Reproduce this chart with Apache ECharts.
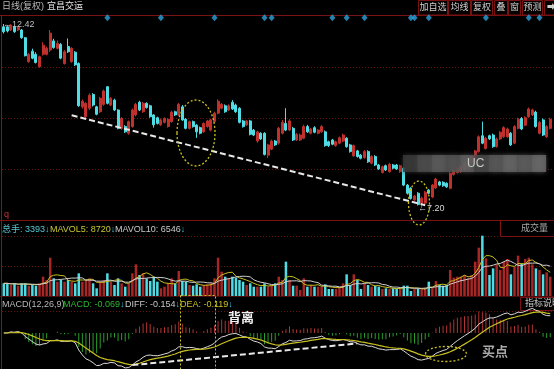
<!DOCTYPE html>
<html><head><meta charset="utf-8">
<script src="https://cdn.jsdelivr.net/npm/echarts@6/dist/echarts.min.js"></script>
<style>html,body{margin:0;padding:0;background:#000;}#c{width:554px;height:369px;}</style>
</head><body><div id="c"></div>
<script>
// ---------- data ----------
const opens = [12.34,12.34,12.25,12.34,12.25,12.25,12.03,11.35,11.65,11.56,
11.21,11.56,11.56,11.68,11.94,11.73,11.84,11.30,11.78,11.35,
11.62,11.30,10.07,9.79,10.03,10.42,10.07,9.93,10.14,10.64,
10.12,10.26,9.98,9.46,9.51,9.32,9.51,9.84,10.20,9.93,
10.17,10.10,9.84,9.76,9.56,9.63,9.51,9.65,9.93,9.84,
10.07,9.72,9.46,9.65,9.55,9.48,9.36,9.51,9.41,9.65,
9.89,10.03,10.10,9.98,10.20,10.12,10.03,9.67,9.56,9.67,
9.41,9.10,9.32,9.32,8.70,8.87,9.10,9.04,9.32,9.60,
9.41,9.46,9.13,9.13,9.18,9.51,9.32,9.48,9.32,9.36,
9.36,9.08,9.13,8.97,9.04,9.10,9.18,8.99,8.68,8.82,
8.70,8.63,8.80,8.47,8.66,8.42,8.21,8.40,8.23,8.42,
8.42,8.23,8.33,7.85,7.76,7.43,7.62,7.34,7.34,7.71,
7.51,7.77,7.94,7.93,7.90,7.76,8.15,8.21,8.23,8.28,
8.33,8.48,8.51,8.80,9.25,8.89,9.25,9.27,8.94,9.16,
9.22,9.22,9.32,9.04,9.46,9.74,9.55,9.79,9.84,9.92,
9.32,9.70,9.22,9.46];
const closes = [12.20,12.22,12.39,12.20,12.34,12.03,11.52,11.56,11.45,11.33,
11.49,11.82,11.73,12.16,11.75,11.87,11.45,11.63,11.63,11.73,
11.26,10.10,10.23,10.17,10.40,10.12,9.86,10.31,10.52,10.17,
10.31,9.98,9.46,9.74,9.36,9.65,9.98,10.14,9.98,10.17,
10.05,9.79,9.56,9.60,9.70,9.74,9.72,9.92,9.84,10.14,
9.70,9.46,9.65,9.51,9.36,9.32,9.60,9.67,9.70,9.89,
10.23,10.14,9.93,10.10,10.01,9.93,9.63,9.51,9.67,9.29,
9.27,9.36,9.16,8.72,8.99,9.10,8.99,9.46,9.63,9.41,
9.67,9.13,9.29,9.27,9.51,9.36,9.44,9.35,9.41,9.51,
8.97,8.97,9.01,9.08,9.19,9.27,8.94,8.80,8.97,8.66,
8.61,8.80,8.51,8.66,8.42,8.31,8.37,8.28,8.44,8.33,
8.31,8.40,7.85,7.62,7.47,7.54,7.30,7.48,7.65,7.62,
7.85,8.02,7.85,7.83,7.80,8.18,8.28,8.33,8.37,8.47,
8.51,8.65,8.82,9.22,9.04,9.18,9.16,8.94,9.16,9.35,
9.48,9.44,8.99,9.51,9.72,9.44,9.76,10.01,9.98,9.51,
9.63,9.27,9.51,9.72];
const lows = [12.15,12.18,12.22,12.17,12.22,12.00,11.50,11.32,11.42,11.30,
11.18,11.52,11.53,11.63,11.72,11.70,11.42,11.27,11.60,11.32,
11.23,10.07,10.02,9.75,9.98,10.08,9.83,9.90,10.10,10.14,
10.09,9.95,9.43,9.42,9.33,9.28,9.48,9.80,9.95,9.90,
10.02,9.76,9.48,9.57,9.53,9.60,9.48,9.62,9.81,9.81,
9.67,9.43,9.43,9.48,9.19,9.29,9.33,9.48,9.38,9.62,
9.86,10.00,9.90,9.95,9.98,9.90,9.60,9.48,9.53,9.26,
9.24,9.05,9.13,8.69,8.62,8.84,8.96,9.00,9.29,9.38,
9.38,9.10,9.10,9.10,9.15,9.33,9.29,9.32,9.29,9.33,
8.94,8.93,8.98,8.94,9.01,9.07,8.91,8.77,8.65,8.63,
8.58,8.60,8.48,8.44,8.39,8.28,8.18,8.25,8.20,8.30,
8.28,8.20,7.82,7.58,7.44,7.40,7.27,7.20,7.30,7.59,
7.48,7.74,7.82,7.80,7.77,7.73,8.12,8.18,8.20,8.25,
8.30,8.45,8.48,8.77,9.01,8.86,9.13,8.91,8.91,9.13,
9.19,9.19,8.96,9.01,9.43,9.41,9.52,9.76,9.81,9.48,
9.29,9.24,9.19,9.43];
const highs = [12.42,12.38,12.41,12.37,12.36,12.28,12.05,11.60,11.72,11.62,
11.52,11.90,11.78,12.25,12.00,11.95,11.88,11.68,12.01,11.76,
11.65,11.33,10.28,10.20,10.45,10.46,10.10,10.35,10.56,10.66,
10.35,10.30,10.00,9.78,9.55,9.68,10.02,10.18,10.24,10.21,
10.20,10.13,9.86,9.79,9.74,9.77,9.75,9.96,9.96,10.18,
10.12,9.75,9.68,9.68,9.58,9.51,9.63,9.70,9.73,9.93,
10.28,10.18,10.14,10.14,10.26,10.16,10.06,9.70,9.70,9.70,
9.44,9.39,9.35,9.35,9.02,9.14,9.13,9.50,9.70,10.03,
9.72,9.50,9.33,9.31,9.56,9.56,9.47,9.52,9.44,9.55,
9.40,9.11,9.16,9.11,9.23,9.31,9.21,9.02,9.00,8.85,
8.73,8.84,8.84,8.70,8.70,8.45,8.40,8.43,8.48,8.45,
8.45,8.43,8.36,7.88,7.79,7.57,7.65,7.52,7.68,7.74,
7.88,8.06,7.97,7.96,7.93,8.22,8.31,8.36,8.40,8.50,
8.55,8.68,8.85,9.26,9.65,9.22,9.28,9.31,9.20,9.38,
9.52,9.48,9.36,9.55,9.76,9.78,9.80,10.05,10.02,9.96,
9.67,9.74,9.55,9.76];
const volumes = [3550,3550,3080,3550,2890,3550,3550,2890,3080,2890,
3550,5410,4480,10730,4950,4010,4480,4010,4480,4010,
3550,6350,4010,4480,4950,3550,2150,4010,4480,6350,
4010,3080,4950,3550,2610,3550,6350,8870,5880,6350,
4950,4200,5410,4010,2150,2610,3550,4950,3550,7000,
4200,4010,3080,2890,3270,2610,3080,3270,3550,4950,
10730,6810,5410,4950,5410,5130,4480,4010,3080,3550,
2610,2610,2610,3550,2610,3080,3550,5410,4480,9610,
4480,2890,2890,1680,4950,2610,3080,2610,2610,2610,
3270,1960,1960,1960,2610,3550,6070,3080,6070,4480,
1960,3550,3080,2610,2890,2610,1960,2150,1960,2150,
2150,2150,2890,2890,1400,1960,1960,1960,2330,4010,
2330,4200,3080,2890,3080,7280,5130,5410,5410,5880,
4950,5880,9610,13530,16890,10540,5880,7740,8870,7280,
9610,10360,6070,8210,11290,9140,10360,10730,8870,7740,
7280,6070,6620,5410];
const eventDays = [29,44,59,73,75,92,96,101,114,115,119,135,147,150];
const categories = opens.map((_, i) => 'D' + (i + 1));
const highLabel = '12.42', lowLabel = '7.20';

// ---------- derived indicators (standard definitions) ----------
function ema(arr, n) { const k = 2 / (n + 1), out = []; arr.forEach((v, i) => out.push(i === 0 ? v : out[i - 1] + k * (v - out[i - 1]))); return out; }
function ma(arr, n) { return arr.map((_, i) => { const s = Math.max(0, i - n + 1); let t = 0; for (let j = s; j <= i; j++) t += arr[j]; return +(t / (i - s + 1)).toFixed(1); }); }
const e12 = ema(closes, 12), e26 = ema(closes, 26);
const dif = e12.map((v, i) => v - e26[i]);
const dea = []; dif.forEach((v, i) => dea.push(i === 0 ? v : dea[i - 1] + 0.2 * (v - dea[i - 1])));
const macd = dif.map((v, i) => 2 * (v - dea[i]));
const mavol5 = ma(volumes, 5), mavol10 = ma(volumes, 10);
let M = 0; dif.concat(dea, macd).forEach(v => M = Math.max(M, Math.abs(v))); M *= 1.03;

const FONT = "'Liberation Sans','Noto Sans CJK SC',sans-serif";
const UP = '#c0302c', DOWN = '#4fdce4';
const isUp = i => closes[i] >= opens[i];

// ---------- decoration ----------
const G = [];
const FR = '#7a1212', DOT = '#661212';
function hl(y, x1, x2, c, dash, z) { G.push({ type: 'line', silent: true, z: z || 0, shape: { x1, y1: y, x2, y2: y }, style: { stroke: c, lineWidth: 1, lineDash: dash || null } }); }
hl(15.5, 0, 554, FR); hl(220.5, 0, 554, FR); hl(296.5, 0, 554, '#4a0c0c');
[67.5, 118.5, 169.5, 266.5, 311.5].forEach(y => hl(y, 2, 554, DOT, [1, 2]));
hl(236.5, 2, 500, DOT, [1, 2]);
G.push({ type: 'line', silent: true, z: 0, shape: { x1: 1.5, y1: 15, x2: 1.5, y2: 369 }, style: { stroke: '#8a1414', lineWidth: 1 } });
G.push({ type: 'rect', silent: true, z: 0, shape: { x: 500.5, y: 220.5, width: 60, height: 16 }, style: { fill: 'none', stroke: FR } });
G.push({ type: 'rect', silent: true, z: 0, shape: { x: 520.5, y: 297.5, width: 40, height: 13 }, style: { fill: 'none', stroke: FR } });
function txt(x, y, t, fill, size, extra) { G.push(Object.assign({ type: 'text', silent: true, z: 50, x, y, style: { text: t, fill, fontSize: size || 9, fontFamily: FONT, verticalAlign: 'middle', align: 'left' } }, extra || {})); }
function rich(x, y, t, styles) { const r = {}; Object.keys(styles).forEach(k => r[k] = { fill: styles[k], fontSize: 9, fontFamily: FONT }); G.push({ type: 'text', silent: true, z: 50, x, y, style: { text: t, rich: r, fontSize: 9, fontFamily: FONT, verticalAlign: 'middle' } }); }
txt(2, 7, '日线(复权)', '#b8b8b8');
txt(47, 7, '宜昌交运', '#e6e6e6');
[['加自选', 418, 447], ['均线', 448, 470], ['复权', 471, 492], ['叠', 494, 507], ['窗', 508, 520], ['预测', 522, 542], ['➡', 544, 558]].forEach(b => {
  G.push({ type: 'rect', silent: true, z: 0, shape: { x: b[1] + 0.5, y: 0.5, width: b[2] - b[1], height: 14.5 }, style: { fill: '#050000', stroke: FR } });
  G.push({ type: 'text', silent: true, z: 50, x: (b[1] + b[2]) / 2 + 0.5, y: 8, style: { text: b[0], fill: '#cfcfcf', fontSize: 9, fontFamily: FONT, align: 'center', verticalAlign: 'middle' } });
});
txt(3, 25, '←' + highLabel, '#bdbdbd');
txt(418, 209, '←' + lowLabel, '#d8d8d8');
txt(4, 215, 'q', '#d03030');
rich(2, 230, '{a|总手: 3393}{b|↓}', { a: '#55c8d4', b: '#3ec8ec' });
rich(50, 230, '{a|MAVOL5: 8720}{b|↓}', { a: '#c8c832', b: '#3ec8ec' });
rich(115, 230, '{a|MAVOL10: 6546}{b|↓}', { a: '#c8c8c8', b: '#3ec8ec' });
txt(521, 229, '成交量', '#a8a8a8');
rich(2, 305, '{a|MACD(12,26,9)}', { a: '#b8b8b8' });
rich(63, 305, '{a|MACD: -0.069}{b|↓}', { a: '#2fb52f', b: '#3ec8ec' });
rich(125, 305, '{a|DIFF: -0.154}{b|↓}', { a: '#c8c8c8', b: '#3ec8ec' });
rich(180, 305, '{a|DEA: -0.119}{b|↓}', { a: '#c8c020', b: '#3ec8ec' });
txt(525, 304, '指标说明', '#c8c8c8');
// blurred watermark band
const grays = ['#3a3a3a', '#4e4e4e', '#5c5c5c', '#555', '#626262', '#4a4a4a', '#5a5a5a', '#666', '#5e5e5e', '#6a6a6a'];
grays.forEach((g, k) => G.push({ type: 'rect', silent: true, z: 60, shape: { x: 403 + k * 14.3, y: 155, width: 14.4, height: 17 }, style: { fill: g, opacity: 0.8, shadowBlur: 5, shadowColor: g } }));
txt(467, 164, 'UC', '#c8c8c8', 12, { z: 61 });
// hand-drawn annotations
const Y = '#c8c020';
G.push({ type: 'ellipse', silent: true, z: 100, shape: { cx: 196, cy: 133, rx: 19, ry: 33 }, style: { fill: 'none', stroke: Y, lineWidth: 1.3, lineDash: [2, 2] } });
G.push({ type: 'ellipse', silent: true, z: 100, shape: { cx: 419, cy: 203, rx: 10.5, ry: 22 }, style: { fill: 'none', stroke: Y, lineWidth: 1.3, lineDash: [2, 2] } });
G.push({ type: 'ellipse', silent: true, z: 100, shape: { cx: 446, cy: 354, rx: 20.5, ry: 7.5 }, style: { fill: 'none', stroke: Y, lineWidth: 1.3, lineDash: [2, 2] } });
G.push({ type: 'rect', silent: true, z: 100, shape: { x: 180.5, y: 295.5, width: 35, height: 80 }, style: { fill: 'none', stroke: Y, lineWidth: 1, lineDash: [2, 2] } });
G.push({ type: 'text', silent: true, z: 100, x: 241, y: 318, style: { text: '背离', fill: '#f2f2f2', fontSize: 13, fontWeight: 'bold', fontFamily: FONT, align: 'center', verticalAlign: 'middle' } });
G.push({ type: 'text', silent: true, z: 100, x: 495, y: 352, style: { text: '买点', fill: '#a8a8a8', fontSize: 13, fontWeight: 'bold', fontFamily: FONT, align: 'center', verticalAlign: 'middle' } });

const trendStyle = { color: '#e8e8e8', width: 2, type: [6, 3] };
const xAx = gi => ({ type: 'category', gridIndex: gi, data: categories, boundaryGap: true, show: false });
const option = {
  backgroundColor: '#000',
  animation: false,
  grid: [
    { left: 2, width: 550, top: 15, height: 205 },
    { left: 2, width: 550, top: 226, height: 70 },
    { left: 2, width: 550, top: 297, height: 72 }
  ],
  xAxis: [xAx(0), xAx(1), xAx(2)],
  yAxis: [
    { gridIndex: 0, min: 6.86, max: 12.675, show: false, splitLine: { show: false } },
    { gridIndex: 1, min: 0, max: 19600, show: false, splitLine: { show: false } },
    { gridIndex: 2, min: -M, max: M, show: false, splitLine: { show: false } }
  ],
  series: [
    { type: 'candlestick', xAxisIndex: 0, yAxisIndex: 0, barWidth: '70%',
      data: opens.map((o, i) => [o, closes[i], lows[i], highs[i]]),
      itemStyle: { color: UP, color0: DOWN, borderColor: UP, borderColor0: DOWN, borderWidth: 1 },
      markLine: { silent: true, symbol: ['none', 'none'], label: { show: false }, lineStyle: trendStyle,
        data: [[{ coord: [categories[19], 9.83] }, { coord: [categories[118], 7.28] }]] } },
    { type: 'scatter', xAxisIndex: 0, yAxisIndex: 0, symbol: 'diamond', symbolSize: [6, 7], z: 5,
      itemStyle: { color: '#2aa4dc' }, data: eventDays.map(i => [categories[i], 12.60]) },
    { type: 'bar', xAxisIndex: 1, yAxisIndex: 1, barWidth: '70%',
      data: volumes.map((v, i) => ({ value: v, itemStyle: { color: isUp(i) ? '#a82626' : DOWN } })) },
    { type: 'line', xAxisIndex: 1, yAxisIndex: 1, data: mavol5, symbol: 'none', lineStyle: { color: '#c8c020', width: 1 }, z: 4 },
    { type: 'line', xAxisIndex: 1, yAxisIndex: 1, data: mavol10, symbol: 'none', lineStyle: { color: '#cfcfcf', width: 1 }, z: 4 },
    { type: 'bar', xAxisIndex: 2, yAxisIndex: 2, barWidth: 1,
      data: macd.map(v => ({ value: v, itemStyle: { color: v >= 0 ? '#b03434' : '#2a9c2a' } })) },
    { type: 'line', xAxisIndex: 2, yAxisIndex: 2, data: dif, symbol: 'none', lineStyle: { color: '#d8d8d8', width: 1 }, z: 4,
      markLine: { silent: true, symbol: ['none', 'none'], label: { show: false }, lineStyle: trendStyle,
        data: [[{ coord: [categories[36], dif[36]] }, { coord: [categories[99], dif[99]] }]] } },
    { type: 'line', xAxisIndex: 2, yAxisIndex: 2, data: dea, symbol: 'none', lineStyle: { color: '#c8c020', width: 1.2 }, z: 4 }
  ],
  graphic: { elements: G }
};
const chart = echarts.init(document.getElementById('c'));
chart.setOption(option);
</script>
</body></html>
